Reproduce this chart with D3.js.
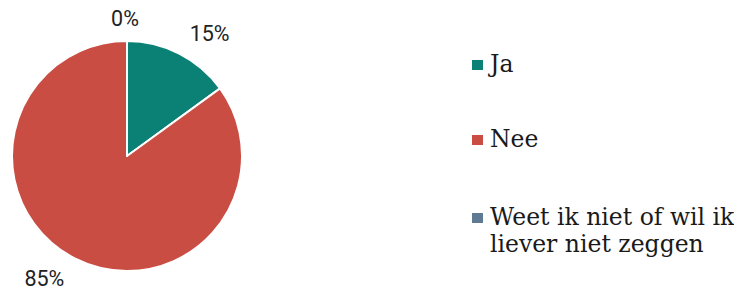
<!DOCTYPE html>
<html>
<head>
<meta charset="utf-8">
<script src="https://cdn.jsdelivr.net/npm/d3@7"></script>
<style>
  body { margin: 0; background: #fff; }
</style>
</head>
<body>
<div id="chart"></div>
<script>
const categories = ["Ja", "Nee", "Weet ik niet of wil ik liever niet zeggen"]
const values = [15, 85, 0]
const valueLabels = ["15%", "85%", "0%"]
const colors = ["#0b8176", "#c94d43", "#5f7b93"]

const w = 734, h = 293
const cx = 127, cy = 156, r = 115, labelR = 138

let svg = d3.select("#chart")
            .append("svg")
            .attr("width", w)
            .attr("height", h)

let pie = d3.pie().sort(null).value(d => d)
let arcs = pie(values)
let arcMaker = d3.arc().innerRadius(0).outerRadius(r)

let g = svg.append("g").attr("transform", `translate(${cx}, ${cy})`)

g.selectAll("path")
 .data(arcs)
 .enter()
 .append("path")
 .attr("d", arcMaker)
 .attr("fill", (d, i) => colors[i])
 .attr("stroke", "#fff")
 .attr("stroke-width", 2)
 .attr("stroke-linejoin", "round")

// percentage labels outside the pie
g.selectAll("text.val")
 .data(arcs)
 .enter()
 .append("text")
 .attr("class", "val")
 .each(function (d, i) {
   const a = (d.startAngle + d.endAngle) / 2
   const x = labelR * Math.sin(a)
   const y = -labelR * Math.cos(a)
   let anchor = "middle"
   if (x > 2) anchor = "start"
   else if (x < -2) anchor = "end"
   d3.select(this)
     .attr("x", anchor == "middle" ? x - 2 : x)
     .attr("y", y)
     .attr("text-anchor", anchor)
     .attr("dominant-baseline", "central")
 })
 .style("font-family", "Roboto, sans-serif")
 .style("font-size", "21.5px")
 .style("fill", "#222")
 .text((d, i) => valueLabels[i])

// legend
const legendX = 472, legendY = [65, 140, 218]
let legend = svg.selectAll("g.legend")
                .data(categories)
                .enter()
                .append("g")
                .attr("class", "legend")
                .attr("transform", (d, i) => `translate(${legendX}, ${legendY[i]})`)

legend.append("rect")
      .attr("x", 0)
      .attr("y", -5)
      .attr("width", 11)
      .attr("height", 10)
      .attr("fill", (d, i) => colors[i])

legend.append("text")
      .attr("x", 18)
      .attr("y", 7)
      .style("font-family", "'DejaVu Serif', serif")
      .style("font-size", "23.5px")
      .style("fill", "#1a1a1a")
      .each(function (d) {
        const lines = d == categories[2] ? ["Weet ik niet of wil ik", "liever niet zeggen"] : [d]
        d3.select(this).selectAll("tspan")
          .data(lines)
          .enter()
          .append("tspan")
          .attr("x", 18)
          .attr("dy", (l, j) => j == 0 ? 0 : 27)
          .text(l => l)
      })
</script>
</body>
</html>
